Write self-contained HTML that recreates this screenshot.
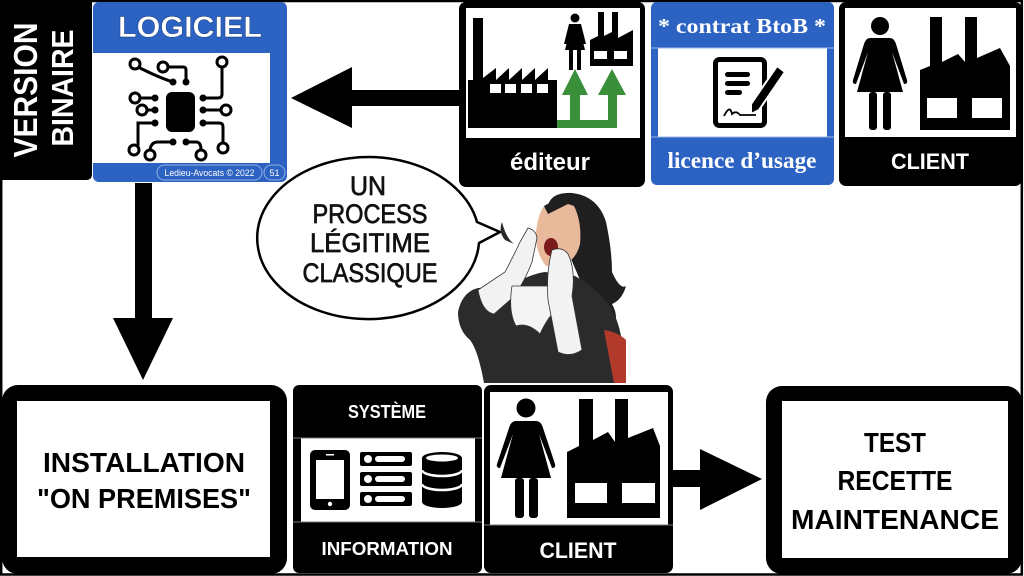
<!DOCTYPE html>
<html><head><meta charset="utf-8"><style>
html,body{margin:0;padding:0;background:#fff;}
svg{display:block;}
text{font-family:"Liberation Sans",sans-serif;}
.b{font-weight:bold;}
.serif{font-family:"Liberation Serif",serif;font-weight:bold;}
</style></head><body>
<svg width="1024" height="576" viewBox="0 0 1024 576" xmlns="http://www.w3.org/2000/svg">
<rect x="0" y="0" width="1024" height="576" fill="#fff"/>
<rect x="1.2" y="1" width="1020.6" height="573.5" fill="none" stroke="#000" stroke-width="2.5"/>

<!-- VERSION BINAIRE panel -->
<path d="M0 0 H92 V174 Q92 180 86 180 H0 Z" fill="#000"/>
<text class="b" transform="translate(37,90) rotate(-90)" text-anchor="middle" font-size="33" fill="#fff" textLength="135" lengthAdjust="spacingAndGlyphs">VERSION</text>
<text class="b" transform="translate(73,88) rotate(-90)" text-anchor="middle" font-size="31" fill="#fff" textLength="117" lengthAdjust="spacingAndGlyphs">BINAIRE</text>

<!-- LOGICIEL box -->
<rect x="93" y="2" width="194" height="180" rx="6" fill="#2c62c2"/>
<rect x="93" y="53" width="177" height="110" fill="#fff"/>
<text class="b" x="190" y="37" text-anchor="middle" font-size="30" fill="#fff" stroke="#12306e" stroke-width="0.4" textLength="144" lengthAdjust="spacingAndGlyphs">LOGICIEL</text>
<rect x="157" y="165" width="105" height="15" rx="7.5" fill="none" stroke="#8fb0e8" stroke-width="1"/>
<text x="209.5" y="176" text-anchor="middle" font-size="9" fill="#fff" textLength="90" lengthAdjust="spacingAndGlyphs">Ledieu-Avocats © 2022</text>
<rect x="264" y="165" width="21" height="15" rx="7.5" fill="none" stroke="#8fb0e8" stroke-width="1"/>
<text x="274.5" y="176" text-anchor="middle" font-size="9" fill="#fff">51</text>

<!-- circuit icon -->
<g stroke="#000" stroke-width="3" fill="none" stroke-linecap="round">
<path d="M155 98 H140"/>
<path d="M155 110 H147"/>
<path d="M155 123 H138 V145"/>
<path d="M173 82 Q160 78 140 68"/>
<path d="M186 82 V70 Q186 67 183 67 H168"/>
<path d="M203 98 H218 Q222 98 222 94 V67"/>
<path d="M203 110 H221"/>
<path d="M203 123 H219 Q223 123 223 127 V143"/>
<path d="M173 142 H158 Q151 142 150 150"/>
<path d="M186 142 H196 Q201 142 201 150"/>
<circle cx="135" cy="98" r="5" fill="#fff"/>
<circle cx="142" cy="110" r="5" fill="#fff"/>
<circle cx="134" cy="150" r="5" fill="#fff"/>
<circle cx="135" cy="64" r="5" fill="#fff"/>
<circle cx="163" cy="67" r="5" fill="#fff"/>
<circle cx="222" cy="62" r="5" fill="#fff"/>
<circle cx="226" cy="110" r="5" fill="#fff"/>
<circle cx="223" cy="148" r="5" fill="#fff"/>
<circle cx="150" cy="155" r="5" fill="#fff"/>
<circle cx="201" cy="155" r="5" fill="#fff"/>
</g>
<g fill="#000">
<rect x="166" y="92" width="29" height="40" rx="6"/>
<circle cx="155" cy="98" r="3.5"/><circle cx="155" cy="110" r="3.5"/><circle cx="155" cy="123" r="3.5"/>
<circle cx="203" cy="98" r="3.5"/><circle cx="203" cy="110" r="3.5"/><circle cx="203" cy="123" r="3.5"/>
<circle cx="173" cy="82" r="3.5"/><circle cx="186" cy="82" r="3.5"/>
<circle cx="173" cy="142" r="3.5"/><circle cx="186" cy="142" r="3.5"/>
</g>

<!-- left arrow -->
<path d="M291 98 L352 67 V90 H460 V106 H352 V128 Z" fill="#000"/>

<!-- éditeur box -->
<rect x="459" y="2" width="186" height="185" rx="7" fill="#000"/>
<rect x="466" y="8" width="174" height="130" fill="#fff"/>
<text class="b" x="550" y="170" text-anchor="middle" font-size="24" fill="#fff">éditeur</text>
<path d="M468 128 V80 H473 V18 H483 V78 L496 68 V80 L509 68 V80 L522 68 V80 L535 68 V80 L548 68 V80 H557 V128 Z" fill="#000"/>
<g fill="#fff"><rect x="490" y="84" width="11" height="9"/><rect x="505" y="84" width="11" height="9"/><rect x="521" y="84" width="11" height="9"/><rect x="537" y="84" width="11" height="9"/></g>
<g fill="#000">
<circle cx="575" cy="18" r="4.5"/>
<path d="M569 24 H581 L586 44 H583 L580 30 L585 50 H565 L570 30 L567 44 H564 Z"/>
<rect x="569" y="50" width="4" height="20"/><rect x="577" y="50" width="4" height="20"/>
<path d="M590 66 V40 L598 36 V12 H604 V36 L612 32 V12 H618 V38 L633 30 V66 Z"/>
</g>
<g fill="#fff"><rect x="594" y="51" width="13" height="8"/><rect x="614" y="51" width="13" height="8"/></g>
<g fill="#3a8f3a">
<path d="M562 95 L575 69 L588 95 H580 V128 H557 V120 H570 V95 Z"/>
<path d="M598 95 L612 69 L626 95 H617 V128 H570 V120 H608 V95 Z"/>
</g>

<!-- contrat BtoB box -->
<rect x="651" y="2" width="183" height="183" rx="6" fill="#2c62c2"/>
<rect x="658" y="48" width="169" height="89" fill="#fff"/>
<line x1="651" y1="48" x2="834" y2="48" stroke="#9bb8ea" stroke-width="1"/>
<line x1="651" y1="137" x2="834" y2="137" stroke="#9bb8ea" stroke-width="1"/>
<text class="serif" x="742" y="33" text-anchor="middle" font-size="21" fill="#fff" textLength="168" lengthAdjust="spacingAndGlyphs">* contrat BtoB *</text>
<text class="serif" x="742" y="168" text-anchor="middle" font-size="23" fill="#fff" textLength="149" lengthAdjust="spacingAndGlyphs">licence d’usage</text>
<rect x="715.5" y="59.5" width="49" height="66" rx="4" fill="#fff" stroke="#000" stroke-width="5"/>
<g fill="#000">
<rect x="725" y="72" width="25" height="5" rx="2.5"/>
<rect x="725" y="81" width="25" height="5" rx="2.5"/>
<rect x="725" y="90" width="17" height="5" rx="2.5"/>
<path d="M777 66 L785 72 L759 110 L751 114 L751 104 Z" stroke="#fff" stroke-width="2"/>
</g>
<path d="M724 116 Q730 104 732 114 Q736 110 740 115 L756 115" fill="none" stroke="#000" stroke-width="1.8"/>

<!-- CLIENT top box -->
<rect x="839" y="2" width="183" height="184" rx="7" fill="#000"/>
<rect x="845" y="8" width="171" height="129" fill="#fff"/>
<text class="b" x="930" y="169" text-anchor="middle" font-size="22" fill="#fff" textLength="78" lengthAdjust="spacingAndGlyphs">CLIENT</text>
<g fill="#000">
<circle cx="880" cy="26" r="9"/>
<path d="M870 38 H890 Q894 38 896 44 L907 80 Q908 84 904 84 L892 52 L903 92 H857 L868 52 L856 84 Q852 84 853 80 L864 44 Q866 38 870 38 Z"/>
<rect x="869" y="92" width="8" height="38" rx="3"/><rect x="883" y="92" width="8" height="38" rx="3"/>
<path d="M920 130 V70 L930 66 V17 H942 V62 L958 54 L965 62 V17 H977 V58 L1000 48 L1010 66 V130 Z"/>
</g>
<g fill="#fff"><rect x="927" y="98" width="30" height="20"/><rect x="972" y="98" width="30" height="20"/></g>

<!-- down arrow -->
<path d="M135 183 H152 V318 H173 L143 380 L113 318 H135 Z" fill="#000"/>

<!-- speech bubble -->
<path d="M477 222 L500 232 L479 243 A111 81 0 1 1 477 222 Z" fill="#fff" stroke="#000" stroke-width="2.5" stroke-linejoin="round"/>
<g font-size="27" fill="#111" stroke="#111" stroke-width="0.7" text-anchor="middle">
<text x="368" y="195" textLength="36" lengthAdjust="spacingAndGlyphs">UN</text>
<text x="370" y="223" textLength="115" lengthAdjust="spacingAndGlyphs">PROCESS</text>
<text x="370" y="252" textLength="120" lengthAdjust="spacingAndGlyphs">LÉGITIME</text>
<text x="370" y="282" textLength="135" lengthAdjust="spacingAndGlyphs">CLASSIQUE</text>
</g>

<!-- woman illustration -->
<g>
<path d="M548 205 Q552 192 572 193 Q598 196 606 222 Q612 250 612 272 Q620 290 626 286 Q622 300 612 304 Q620 318 612 330 L590 320 L580 280 Z" fill="#1f1f1f"/>
<path d="M505 240 Q498 232 502 222 Q506 238 514 244 Z" fill="#2a2a2a"/>
<path d="M544 206 Q560 200 574 206 Q582 222 580 244 Q576 260 564 264 L546 266 Q535 252 536 232 Q538 214 544 206 Z" fill="#e9b99b"/>
<path d="M544 206 Q556 198 572 202 Q560 208 548 214 Z" fill="#1f1f1f"/>
<ellipse cx="551" cy="247" rx="7" ry="9" fill="#7a1c1c"/>
<path d="M458 312 Q462 292 478 288 L510 286 Q530 274 545 272 L575 276 Q600 290 612 310 Q624 330 626 383 H484 Q478 350 470 340 Q458 330 458 312 Z" fill="#2b2b2b"/>
<path d="M604 330 Q618 332 626 340 V383 H614 Z" fill="#b23a2a"/>
<path d="M478 290 L505 272 Q514 255 520 242 L528 228 Q536 230 537 238 L532 262 Q522 288 510 300 L494 314 Q482 312 478 290 Z" fill="#f2f2f2" stroke="#333" stroke-width="0.8"/>
<path d="M512 286 H556 L560 306 Q548 316 540 334 Q528 322 516 326 Q508 312 512 286 Z" fill="#f4f4f4" stroke="#333" stroke-width="0.8"/>
<path d="M552 250 Q562 246 568 254 Q576 270 572 296 L582 350 Q570 358 558 352 L548 300 Q546 272 552 250 Z" fill="#f2f2f2" stroke="#333" stroke-width="0.8"/>
</g>

<!-- INSTALLATION box -->
<rect x="2" y="385" width="285" height="189" rx="16" fill="#000"/>
<rect x="17" y="401" width="253" height="156" fill="#fff"/>
<text class="b" x="144" y="472" text-anchor="middle" font-size="28" fill="#000" textLength="202" lengthAdjust="spacingAndGlyphs">INSTALLATION</text>
<text class="b" x="144" y="508" text-anchor="middle" font-size="28" fill="#000" textLength="214" lengthAdjust="spacingAndGlyphs">"ON PREMISES"</text>

<!-- SYSTÈME INFORMATION box -->
<rect x="293" y="385" width="189" height="188" rx="6" fill="#000"/>
<rect x="301" y="438" width="174" height="84" fill="#fff"/>
<line x1="293" y1="438" x2="482" y2="438" stroke="#777" stroke-width="1"/>
<line x1="293" y1="522" x2="482" y2="522" stroke="#777" stroke-width="1"/>
<text class="b" x="387" y="418" text-anchor="middle" font-size="18" fill="#fff" textLength="78" lengthAdjust="spacingAndGlyphs">SYSTÈME</text>
<text class="b" x="387" y="555" text-anchor="middle" font-size="18" fill="#fff" textLength="131" lengthAdjust="spacingAndGlyphs">INFORMATION</text>
<rect x="310" y="450" width="40" height="60" rx="5" fill="#000"/>
<rect x="316" y="460" width="28" height="39" fill="#fff"/>
<circle cx="330" cy="504" r="2.2" fill="#fff"/>
<rect x="326" y="454" width="8" height="1.5" fill="#fff"/>
<g fill="#000"><rect x="360" y="452" width="52" height="14" rx="2"/><rect x="360" y="472" width="52" height="14" rx="2"/><rect x="360" y="492" width="52" height="14" rx="2"/></g>
<g fill="#fff">
<circle cx="368" cy="459" r="4"/><rect x="375" y="456" width="30" height="6" rx="3"/>
<circle cx="368" cy="479" r="4"/><rect x="375" y="476" width="30" height="6" rx="3"/>
<circle cx="368" cy="499" r="4"/><rect x="375" y="496" width="30" height="6" rx="3"/>
</g>
<path d="M422 458 A20 6 0 0 1 462 458 V502 A20 6 0 0 1 422 502 Z" fill="#000"/>
<ellipse cx="442" cy="458" rx="16" ry="3.5" fill="#fff"/>
<path d="M422 470 A20 6 0 0 0 462 470" fill="none" stroke="#fff" stroke-width="2.5"/>
<path d="M422 484 A20 6 0 0 0 462 484" fill="none" stroke="#fff" stroke-width="2.5"/>

<!-- CLIENT bottom box -->
<rect x="484" y="385" width="189" height="188" rx="7" fill="#000"/>
<rect x="490" y="392" width="178" height="133" fill="#fff"/>
<line x1="484" y1="525" x2="673" y2="525" stroke="#777" stroke-width="1"/>
<text class="b" x="578" y="558" text-anchor="middle" font-size="22" fill="#fff" textLength="77" lengthAdjust="spacingAndGlyphs">CLIENT</text>
<g fill="#000">
<circle cx="526" cy="408" r="9.5"/>
<path d="M516 421 H536 Q541 421 543 428 L555 464 Q556 468 552 468 L539 434 L551 478 H501 L513 434 L500 468 Q496 468 497 464 L509 428 Q511 421 516 421 Z"/>
<rect x="515" y="478" width="9" height="40" rx="3"/><rect x="529" y="478" width="9" height="40" rx="3"/>
<path d="M567 518 V452 L579 446 V399 H593 V440 L608 432 L615 442 V399 H628 V438 L653 428 L660 446 V518 Z"/>
</g>
<g fill="#fff"><rect x="575" y="483" width="32" height="20"/><rect x="622" y="483" width="33" height="20"/></g>

<!-- right arrow -->
<path d="M673 470 H700 V449 L762 479 L700 510 V487 H673 Z" fill="#000"/>

<!-- TEST box -->
<rect x="766" y="386" width="256" height="188" rx="16" fill="#000"/>
<rect x="782" y="401" width="226" height="157" fill="#fff"/>
<text class="b" x="895" y="452" text-anchor="middle" font-size="28" fill="#000" textLength="62" lengthAdjust="spacingAndGlyphs">TEST</text>
<text class="b" x="895" y="490" text-anchor="middle" font-size="28" fill="#000" textLength="115" lengthAdjust="spacingAndGlyphs">RECETTE</text>
<text class="b" x="895" y="529" text-anchor="middle" font-size="28" fill="#000" textLength="208" lengthAdjust="spacingAndGlyphs">MAINTENANCE</text>
</svg>
</body></html>
